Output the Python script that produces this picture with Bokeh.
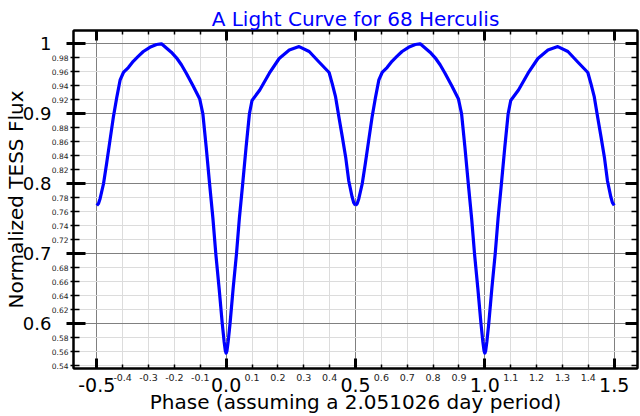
from bokeh.plotting import figure
from bokeh.models import LinearAxis, FixedTicker, ColumnDataSource
from bokeh.transform import dodge
from bokeh.embed import file_html
from bokeh.resources import INLINE

title_text = "A Light Curve for 68 Herculis"
x_label = "Phase (assuming a 2.051026 day period)"
y_label = "Normalized TESS Flux"

# one folded cycle of the light curve (phase -0.5 .. 0.5); drawn twice (cycle + 1)
phase = [-0.500, -0.493, -0.487, -0.474, -0.462, -0.449, -0.436, -0.423, -0.410,
         -0.397, -0.378, -0.359, -0.340, -0.320, -0.295, -0.269, -0.250, -0.231,
         -0.212, -0.192, -0.173, -0.154, -0.128, -0.102, -0.090, -0.077, -0.064,
         -0.051, -0.040, -0.027, -0.015, -0.008, -0.003, 0.000, 0.003, 0.008,
         0.015, 0.027, 0.040, 0.051, 0.064, 0.077, 0.090, 0.100, 0.130, 0.167,
         0.205, 0.244, 0.282, 0.321, 0.359, 0.398, 0.410, 0.423, 0.436, 0.449,
         0.462, 0.474, 0.487, 0.493, 0.500]
flux = [0.769, 0.772, 0.779, 0.800, 0.829, 0.862, 0.895, 0.923, 0.948,
        0.959, 0.966, 0.975, 0.982, 0.989, 0.995, 0.999, 1.000, 0.994,
        0.988, 0.980, 0.970, 0.958, 0.940, 0.921, 0.900, 0.852, 0.800,
        0.750, 0.700, 0.650, 0.600, 0.575, 0.561, 0.558, 0.561, 0.575,
        0.600, 0.650, 0.700, 0.750, 0.800, 0.852, 0.900, 0.919, 0.934, 0.958,
        0.979, 0.991, 0.996, 0.989, 0.974, 0.959, 0.943, 0.924, 0.895, 0.867,
        0.838, 0.804, 0.781, 0.773, 0.769]
cycle_shift = 1.0

x_major = [-0.5, 0.0, 0.5, 1.0, 1.5]
x_major_labels = ["-0.5", "0.0", "0.5", "1.0", "1.5"]
x_minor = [-0.4, -0.3, -0.2, -0.1, 0.1, 0.2, 0.3, 0.4, 0.6, 0.7, 0.8, 0.9,
           1.1, 1.2, 1.3, 1.4]
x_minor_labels = ["-0.4", "-0.3", "-0.2", "-0.1", "0.1", "0.2", "0.3", "0.4",
                  "0.6", "0.7", "0.8", "0.9", "1.1", "1.2", "1.3", "1.4"]
y_major = [0.6, 0.7, 0.8, 0.9, 1.0]
y_major_labels = ["0.6", "0.7", "0.8", "0.9", "1"]
y_minor = [0.54, 0.56, 0.58, 0.62, 0.64, 0.66, 0.68, 0.72, 0.74, 0.76, 0.78,
           0.82, 0.84, 0.86, 0.88, 0.92, 0.94, 0.96, 0.98]
y_minor_labels = ["0.54", "0.56", "0.58", "0.62", "0.64", "0.66", "0.68",
                  "0.72", "0.74", "0.76", "0.78", "0.82", "0.84", "0.86",
                  "0.88", "0.92", "0.94", "0.96", "0.98"]

x_lo, x_hi = -0.59, 1.59
y_lo, y_hi = 0.536, 1.019

FONT = "DejaVu Sans"

p = figure(width=640, height=416, x_range=(x_lo, x_hi), y_range=(y_lo, y_hi),
           output_backend="svg", toolbar_location=None, title=title_text,
           min_border_left=70, min_border_right=3, min_border_top=30,
           min_border_bottom=48)
p.background_fill_color = "white"
p.border_fill_color = "white"
p.outline_line_color = "black"
p.outline_line_width = 2

p.title.align = "center"
p.title.text_font = FONT
p.title.text_font_size = "20px"
p.title.text_font_style = "normal"
p.title.text_color = "blue"
p.title.standoff = 0
p.title.offset = 0

xt = FixedTicker(ticks=x_major, minor_ticks=x_minor)
yt = FixedTicker(ticks=y_major, minor_ticks=y_minor)

# inner bottom axis: small labels at the 0.1 steps; its minor ticks are the big 0.5 ticks
xa = p.xaxis[0]
xa.ticker = FixedTicker(ticks=x_minor, minor_ticks=x_major)
xa.major_label_overrides = dict(zip(x_minor, x_minor_labels))
xa.major_label_text_font = FONT
xa.major_label_text_font_size = "9.5px"
xa.major_label_text_color = "#222222"
xa.major_label_standoff = 5
xa.major_tick_in = 4
xa.major_tick_out = 0
xa.minor_tick_in = 10
xa.minor_tick_out = 0
xa.major_tick_line_width = 1.5
xa.minor_tick_line_width = 3
xa.axis_line_width = 2

# outer bottom axis: big labels at the 0.5 steps, pulled up beside the small ones
xb = LinearAxis(ticker=FixedTicker(ticks=x_major, minor_ticks=[]),
                major_label_overrides=dict(zip(x_major, x_major_labels)),
                major_label_text_font=FONT, major_label_text_font_size="19px",
                major_label_text_color="black", major_label_standoff=-6,
                major_tick_in=0, major_tick_out=0, minor_tick_out=0,
                axis_line_color=None,
                axis_label=x_label, axis_label_text_font=FONT,
                axis_label_text_font_size="20px", axis_label_text_font_style="normal",
                axis_label_text_color="black", axis_label_standoff=-5)
p.add_layout(xb, "below")

# inner left axis: small labels at the 0.02 steps; its minor ticks are the big 0.1 ticks
ya = p.yaxis[0]
ya.ticker = FixedTicker(ticks=y_minor, minor_ticks=y_major)
ya.major_label_overrides = dict(zip(y_minor, y_minor_labels))
ya.major_label_text_font = FONT
ya.major_label_text_font_size = "7.5px"
ya.major_label_text_color = "#222222"
ya.major_label_standoff = -2
ya.major_tick_in = 6
ya.major_tick_out = 3
ya.minor_tick_in = 12
ya.minor_tick_out = 7
ya.major_tick_line_width = 1.5
ya.minor_tick_line_width = 3
ya.axis_line_width = 2

yb = LinearAxis(ticker=FixedTicker(ticks=y_major, minor_ticks=[]),
                major_label_overrides=dict(zip(y_major, y_major_labels)),
                major_label_text_font=FONT, major_label_text_font_size="18px",
                major_label_text_color="black", major_label_standoff=-3,
                major_tick_in=0, major_tick_out=0, minor_tick_out=4,
                axis_line_color=None,
                axis_label=y_label, axis_label_text_font=FONT,
                axis_label_text_font_size="20px", axis_label_text_font_style="normal",
                axis_label_text_color="black", axis_label_standoff=-8)
p.add_layout(yb, "left")

top = LinearAxis(ticker=xt, major_label_overrides={t: "" for t in x_major},
                 major_label_text_font_size="1px", major_label_standoff=0,
                 major_tick_in=10, major_tick_out=0, minor_tick_in=4, minor_tick_out=0,
                 major_tick_line_width=3, minor_tick_line_width=1.5, axis_line_width=2)
p.add_layout(top, "above")
right = LinearAxis(ticker=yt, major_label_overrides={t: "" for t in y_major},
                   major_label_text_font_size="1px", major_label_standoff=0,
                   major_tick_in=12, major_tick_out=0, minor_tick_in=6, minor_tick_out=0,
                   major_tick_line_width=3, minor_tick_line_width=1.5, axis_line_width=2)
p.add_layout(right, "right")

for g, t in ((p.xgrid[0], xt), (p.ygrid[0], yt)):
    g.ticker = t
    g.grid_line_color = "#808080"
    g.grid_line_width = 1
    g.minor_grid_line_color = "#dcdcdc"
    g.minor_grid_line_width = 1

src = ColumnDataSource(dict(phase=phase, flux=flux))
p.line("phase", "flux", source=src, line_color="blue", line_width=3.2, line_join="round")
p.line(x=dodge("phase", cycle_shift), y="flux", source=src, line_color="blue",
       line_width=3.2, line_join="round")

open("out.html", "w").write(file_html(p, INLINE))
